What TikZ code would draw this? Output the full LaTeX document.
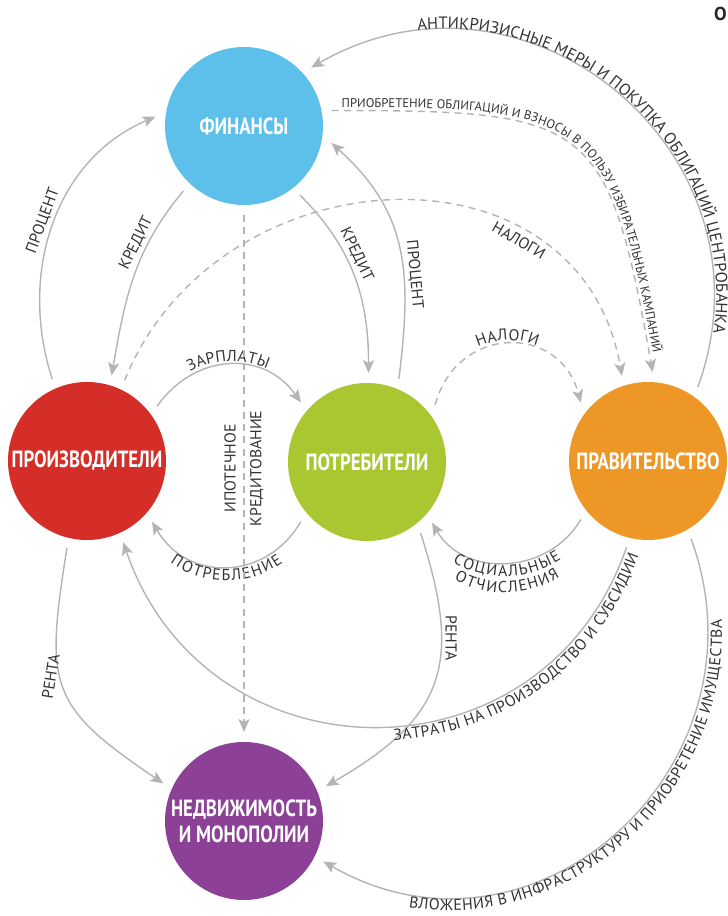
\documentclass[tikz,border=0pt]{standalone}
\usepackage{fontspec}
\setmainfont{PT Sans}
\newfontfamily\sectorfont[FakeStretch=0.8]{PT Sans}
\usepackage{tikz}
\usetikzlibrary{arrows.meta, positioning, decorations.text}

\definecolor{finblue}{HTML}{5DC0EA}
\definecolor{prodred}{HTML}{D52D27}
\definecolor{consgreen}{HTML}{AAC732}
\definecolor{govorange}{HTML}{EC9726}
\definecolor{estpurple}{HTML}{8C4196}
\definecolor{flowgray}{HTML}{B4B4B4}
\definecolor{labelgray}{HTML}{333333}

\newcommand{\lblfont}{\fontsize{13.5}{15}\selectfont}
\newcommand{\bigfont}{\fontsize{14}{16}\selectfont}
\newcommand{\smlfont}{\fontsize{10.8}{12}\selectfont}

\begin{document}
\begin{tikzpicture}[x=0.03cm, y=0.03cm,
		sector/.style={circle, minimum size=4.74cm, inner sep=0pt, outer sep=0.3cm, text=white, align=center, font=\sectorfont\bfseries\fontsize{20}{22}\selectfont},
		flow/.style={draw=flowgray, line width=1.2pt, -{Stealth[length=11pt, width=9.5pt, inset=2.5pt]}},
		dflow/.style={flow, dash pattern=on 6pt off 4.5pt},
		lbl/.style={text=labelgray, font=\lblfont, inner sep=3pt},
		over/.style={postaction={decorate, decoration={text along path, text color=labelgray, text align=center, raise=3pt, text={|\lblfont|#1}}}},
		under/.style 2 args={postaction={decorate, decoration={text along path, reverse path, text color=labelgray, text align=center, raise=#2, text={|\lblfont|#1}}}}
		]
		
		\useasboundingbox (0,0) rectangle (728,916);
		
		\node[sector, fill=finblue] (fin) at (244, 790) {ФИНАНСЫ};
		\node[sector, fill=prodred] (prod) at (87, 455) {ПРОИЗВОДИТЕЛИ};
		\node[sector, fill=consgreen] (cons) at (367, 454) {ПОТРЕБИТЕЛИ};
		\node[sector, fill=govorange] (gov) at (648, 455) {ПРАВИТЕЛЬСТВО};
		\node[sector, fill=estpurple] (prop) at (244, 95) {НЕДВИЖИМОСТЬ\\И МОНОПОЛИИ};
		\node[font=\bfseries\fontsize{16}{18}\selectfont, text=black!85, inner sep=0pt] (corner) at (720.5, 902.5) {О};
		
		% credit and interest
		\draw[flow] (prod.113) to[out=108, in=203] node[lbl, sloped, above, pos=0.5] {ПРОЦЕНТ} (fin.174);
		\draw[flow] (fin.227) to[out=230, in=80] node[lbl, sloped, above, pos=0.33] {КРЕДИТ} (prod.74);
		\draw[flow] (fin.309) to[out=315, in=90] node[lbl, sloped, above, pos=0.4] {КРЕДИТ} (cons.89);
		\draw[flow] (cons.69) to[out=83, in=318, looseness=1.1] node[lbl, sloped, above, pos=0.38] {ПРОЦЕНТ} (fin.349);
		
		% wages and consumption
		\draw[flow, over=ЗАРПЛАТЫ] (prod.38) to[out=55, in=125, looseness=1.15] (cons.138);
		\draw[flow, under={ПОТРЕБЛЕНИЕ}{-12pt}] (cons.222) to[out=240, in=300, looseness=1.2] (prod.317);
		
		% taxes and transfers
		\draw[dflow, over=НАЛОГИ] (cons.40) to[out=75, in=105, looseness=1.45] (gov.139);
		\draw[flow, under={СОЦИАЛЬНЫЕ}{-11.5pt}] (gov.221) to[out=240, in=300, looseness=1.1] (cons.317);
		\path[decorate, decoration={text along path, text color=labelgray, text align=center, raise=-11.5pt, text={|\lblfont|ОТЧИСЛЕНИЯ}}] ([yshift=-14pt]cons.317) to[out=300, in=240, looseness=1.1] ([yshift=-14pt]gov.221);
		\draw[dflow] (prod.65) to[out=68, in=100, looseness=1.27] node[lbl, sloped, below, pos=0.72] {НАЛОГИ} (gov.107);
		
		% mortgage
		\draw[dflow] (fin.270) -- node[lbl, rotate=90, align=center, pos=0.49] {ИПОТЕЧНОЕ\\[7pt]КРЕДИТОВАНИЕ} (prop.90);
		
		% rent
		\draw[flow] (prod.257) to[out=261, in=146, looseness=1.4] node[lbl, pos=0.45, rotate=81, anchor=south] {РЕНТА} (prop.155);
		\draw[flow] (cons.307) to[out=288, in=30, looseness=1.3] node[lbl, pos=0.32, rotate=-90, anchor=south] {РЕНТА} (prop.23);
		
		% outer loops
		\draw[flow, postaction={decorate, decoration={text along path, reverse path, text color=labelgray, text align={right, right indent=0.1cm}, raise=-12pt, text={|\lblfont|ЗАТРАТЫ НА ПРОИЗВОДСТВО И СУБСИДИИ}}}] (gov.256) to[out=251, in=289, looseness=1.3] (prod.294);
		\draw[flow, postaction={decorate, decoration={text along path, reverse path, text color=labelgray, text align={left, left indent=2.8cm}, raise=-12pt, text={|\lblfont|ВЛОЖЕНИЯ В ИНФРАСТРУКТУРУ И ПРИОБРЕТЕНИЕ ИМУЩЕСТВА}}}] (gov.299) to[out=290, in=330, looseness=1.27] (prop.333);
		\draw[flow, postaction={decorate, decoration={text along path, reverse path, text color=labelgray, text align={left, left indent=3.4cm}, raise=1.5pt, text={|\bigfont|АНТИКРИЗИСНЫЕ МЕРЫ И ПОКУПКА ОБЛИГАЦИЙ ЦЕНТРОБАНКА}}}] (gov.56) to[out=70, in=30, looseness=1.27] (fin.41);
		\draw[dflow, postaction={decorate, decoration={text along path, text color=labelgray, text align={left, left indent=0.3cm}, raise=3pt, text={|\smlfont|ПРИОБРЕТЕНИЕ ОБЛИГАЦИЙ И ВЗНОСЫ В ПОЛЬЗУ ИЗБИРАТЕЛЬНЫХ КАМПАНИЙ}}}] (fin.10) to[out=0, in=100, looseness=1.6] (gov.87);
		
\end{tikzpicture}
\end{document}
